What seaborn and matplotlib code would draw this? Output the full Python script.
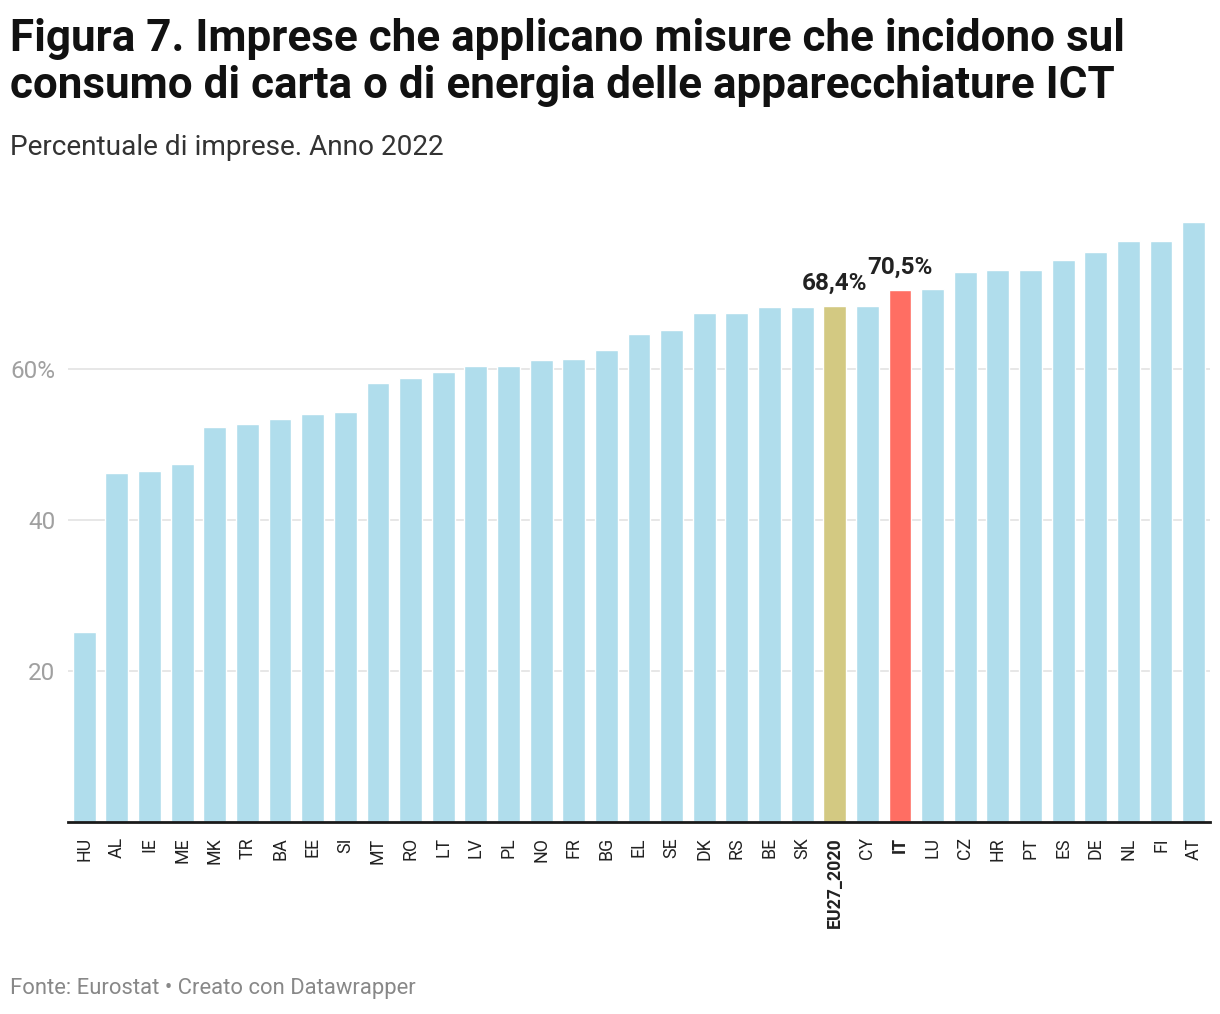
import matplotlib
matplotlib.use("Agg")
import matplotlib.pyplot as plt
import seaborn as sns
import pandas as pd

# =========================
# data
# =========================
countries = ["HU", "AL", "IE", "ME", "MK", "TR", "BA", "EE", "SI", "MT",
             "RO", "LT", "LV", "PL", "NO", "FR", "BG", "EL", "SE", "DK",
             "RS", "BE", "SK", "EU27_2020", "CY", "IT", "LU", "CZ", "HR", "PT",
             "ES", "DE", "NL", "FI", "AT"]
values = [25.2, 46.2, 46.5, 47.4, 52.3, 52.7, 53.4, 54.0, 54.3, 58.2,
          58.8, 59.6, 60.4, 60.4, 61.2, 61.3, 62.5, 64.7, 65.2, 67.4,
          67.4, 68.2, 68.2, 68.4, 68.4, 70.5, 70.6, 72.9, 73.1, 73.1,
          74.5, 75.5, 77.0, 77.0, 79.5]
highlight = {"EU27_2020": "68,4%", "IT": "70,5%"}
yticks = [20, 40, 60]
ytick_labels = ["20", "40", "60%"]

BLUE = "#b0ddec"
GOLD = "#d3c982"
RED = "#ff6e63"

df = pd.DataFrame({"country": countries, "value": values})
colors = {c: BLUE for c in countries}
colors["EU27_2020"] = GOLD
colors["IT"] = RED

# =========================
# plot
# =========================
sns.set_style("white")
plt.rcParams["font.family"] = ["Roboto", "DejaVu Sans"]

fig = plt.figure(figsize=(12.2, 10.14), dpi=100)
ax = fig.add_axes([0.0557, 0.1893, 0.9361, 0.5957])

sns.barplot(data=df, x="country", y="value", hue="country", palette=colors,
            legend=False, width=0.7, saturation=1, ax=ax)

ax.set_xlim(-0.5, len(countries) - 0.5)
ax.set_ylim(0, 80)
ax.set_yticks(yticks)
ax.set_yticklabels(ytick_labels)
ax.yaxis.grid(True, color="#e5e5e5", linewidth=1.3)
ax.set_axisbelow(True)
for s in ["top", "right", "left"]:
    ax.spines[s].set_visible(False)
ax.spines["bottom"].set_color("#1a1a1a")
ax.spines["bottom"].set_linewidth(2)
ax.tick_params(axis="y", length=0, labelsize=17.5, labelcolor="#a0a0a0", pad=9)
ax.tick_params(axis="x", length=0, labelsize=12.8, labelcolor="#222222",
               rotation=90, pad=11)
ax.set_xlabel("")
ax.set_ylabel("")

for lbl in ax.get_xticklabels():
    if lbl.get_text() in highlight:
        lbl.set_fontweight("bold")

for i, c in enumerate(countries):
    if c in highlight:
        ax.annotate(highlight[c], xy=(i, values[i]), xytext=(0, 8),
                    textcoords="offset points", ha="center", va="bottom",
                    fontsize=17.5, fontweight="bold", color="#222222")

fig.text(0.008, 0.982, "Figura 7. Imprese che applicano misure che incidono sul\n"
         "consumo di carta o di energia delle apparecchiature ICT",
         fontsize=31.7, fontweight="bold", color="#111111", va="top",
         linespacing=1.14)
fig.text(0.008, 0.855, "Percentuale di imprese. Anno 2022",
         fontsize=20.2, color="#333333", va="center")
fig.text(0.008, 0.025, "Fonte: Eurostat \u2022 Creato con Datawrapper",
         fontsize=15.8, color="#888888", va="center")

fig.savefig("out.png", dpi=100)
